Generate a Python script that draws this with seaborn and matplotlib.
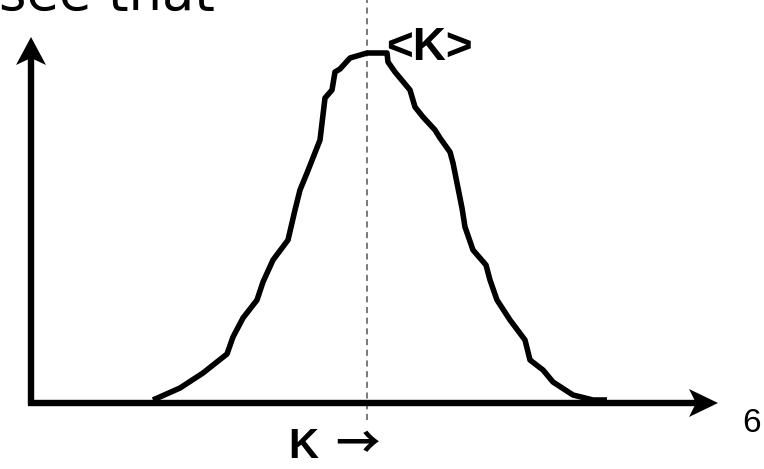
import numpy as np
import pandas as pd
import seaborn as sns
import matplotlib.pyplot as plt

##
# data (K along x, N(K) up, origin at the axes corner)

k_values = [122, 149, 172, 196, 202, 212, 226, 232, 242, 257, 264, 269, 276,
            289, 294, 301, 304, 309, 319, 336, 356, 357, 364, 379, 384, 392,
            404, 409, 419, 422, 431, 434, 442, 455, 459, 466, 479, 494, 499,
            512, 522, 542, 562, 576]
n_values = [3, 15, 30, 49, 66, 85, 103, 121, 143, 163, 193, 213, 230,
            263, 305, 313, 331, 334, 345, 350, 350, 341, 331, 313, 296, 286,
            273, 265, 251, 240, 195, 176, 153, 138, 123, 103, 83, 63, 43,
            33, 21, 8, 3, 3]
k_mean = 336

caption = 'see that'
mean_label = '<K>'
axis_label = 'K'
axis_arrow = '\u2192'
page_number = '6'

##
# figure

sns.set_style('white')
plt.rcParams['font.family'] = ['Liberation Sans', 'DejaVu Sans']
plt.rcParams['text.color'] = 'black'

fig = plt.figure(figsize=(7.64, 4.69), dpi=100)
ax = fig.add_axes([0, 0, 1, 1])
ax.set_xlim(-31, 733)
ax.set_ylim(-66, 403)
ax.axis('off')

df = pd.DataFrame({'K': k_values, 'N': n_values})
sns.lineplot(data=df, x='K', y='N', sort=False, estimator=None,
             color='black', linewidth=4.0, ax=ax,
             solid_joinstyle='round', solid_capstyle='butt')

# mean marker
ax.plot([k_mean, k_mean], [-17, 403], color='#555555', linewidth=1.1,
        linestyle=(0, (4, 3)), zorder=1)

# axes with arrow heads
x_end, y_end = 687, 366
ax.plot([-3, x_end - 20], [0, 0], color='black', linewidth=4.6,
        solid_capstyle='butt')
ax.plot([0, 0], [-2, y_end - 20], color='black', linewidth=4.6,
        solid_capstyle='butt')
ax.fill([x_end, x_end - 29, x_end - 22, x_end - 29],
        [0, 14, 0, -14], color='black', linewidth=0)
ax.fill([0, -15, 0, 15],
        [y_end, y_end - 28, y_end - 21, y_end - 28], color='black', linewidth=0)

# texts
ax.text(-32, 393, caption, fontsize=38, family='DejaVu Sans',
        va='baseline', ha='left')
ax.text(355, 343, mean_label, fontsize=33, fontweight='bold',
        family='Liberation Sans', va='baseline', ha='left')
ax.text(257, -55, axis_label, fontsize=30, fontweight='bold',
        family='Liberation Sans', va='baseline', ha='left')
ax.text(304, -55, axis_arrow, fontsize=32, fontweight='bold',
        family=['Noto Sans CJK JP', 'DejaVu Sans'], va='baseline', ha='left')
ax.text(711, -29, page_number, fontsize=24, family='Liberation Sans',
        va='baseline', ha='left')

fig.savefig('out.png', dpi=100)
plt.close()
